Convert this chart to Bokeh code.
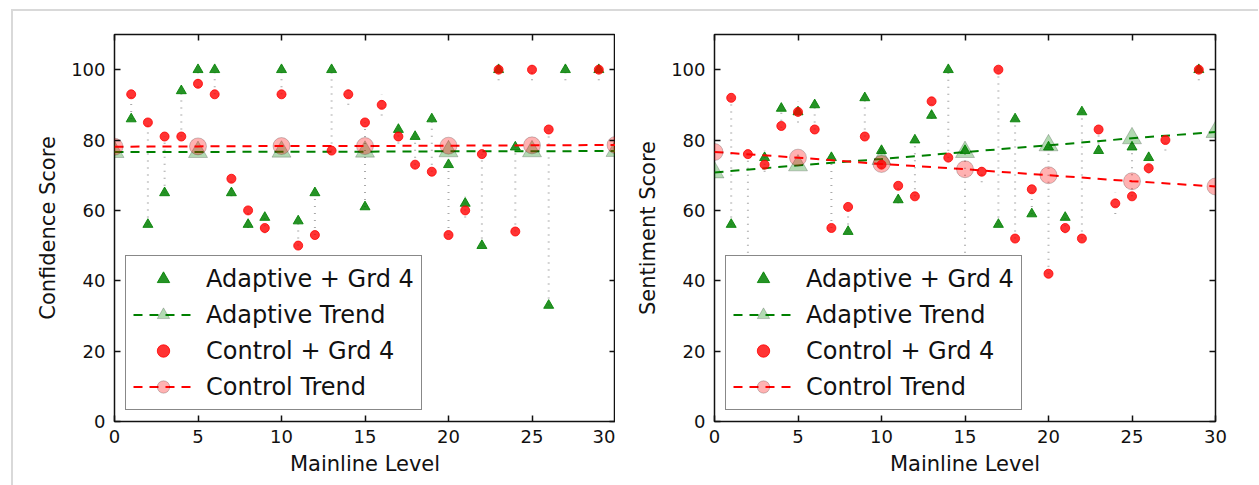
import math
from bokeh.plotting import figure
from bokeh.models import (Range1d, FixedTicker, LinearAxis, Legend, LegendItem)
from bokeh.layouts import row
from bokeh.embed import file_html
from bokeh.resources import INLINE

NaN = float("nan")

# ---------------- data ----------------
levels = list(range(1, 30))

conf_adaptive = [86, 56, 65, 94, 100, 100, 65, 56, 58, 100,
                 57, 65, 100, NaN, 61, NaN, 83, 81, 86, 73,
                 62, 50, 100, 78, NaN, 33, 100, NaN, 100]
conf_control = [93, 85, 81, 81, 96, 93, 69, 60, 55, 93,
                50, 53, 77, 93, 85, 90, 81, 73, 71, 53,
                60, 76, 100, 54, 100, 83, NaN, NaN, 100]

sent_adaptive = [56, 38, 75, 89, 88, 90, 75, 54, 92, 77,
                 63, 80, 87, 100, 77, NaN, 56, 86, 59, 78,
                 58, 88, 77, NaN, 78, 75, NaN, NaN, 100]
sent_control = [92, 76, 73, 84, 88, 83, 55, 61, 81, 73,
                67, 64, 91, 75, 40, 71, 100, 52, 66, 42,
                55, 52, 83, 62, 64, 72, 80, NaN, 100]

trend_levels = [0, 5, 10, 15, 20, 25, 30]
conf_adaptive_trend = [76.6, 76.6, 76.7, 76.7, 76.8, 76.8, 76.9]
conf_control_trend = [78.1, 78.2, 78.3, 78.3, 78.4, 78.5, 78.6]
sent_adaptive_trend = [70.8, 72.8, 74.6, 76.6, 78.5, 80.5, 82.3]
sent_control_trend = [76.6, 75.0, 73.2, 71.7, 70.0, 68.3, 66.8]

x_ticks = [0, 5, 10, 15, 20, 25, 30]
y_ticks = [0, 20, 40, 60, 80, 100]

FONT = "DejaVu Sans"
TXT = "#111111"


def span_bounds(a_vals, c_vals, half=3.0):
    xs, lo, hi = [], [], []
    for x, a, c in zip(levels, a_vals, c_vals):
        vals = [v for v in (a, c) if not math.isnan(v)]
        if not vals:
            continue
        l, h = min(vals), max(vals)
        if h - l < 2 * half:
            m = (h + l) / 2.0
            l, h = m - half, m + half
        xs.append(x)
        lo.append(l)
        hi.append(h)
    return xs, lo, hi


def make_panel(adaptive, control, a_trend, c_trend, ylabel, mb_left, mb_right):
    p = figure(frame_width=501, frame_height=387,
               x_range=Range1d(0, 30), y_range=Range1d(0, 110),
               min_border_left=mb_left, min_border_right=mb_right,
               min_border_top=23, min_border_bottom=64,
               toolbar_location=None, output_backend="svg",
               background_fill_color="white", border_fill_color="white")
    p.xgrid.visible = False
    p.ygrid.visible = False
    p.outline_line_color = "#111111"
    p.outline_line_width = 1.5
    p.outline_line_alpha = 1.0

    for ax in (p.xaxis[0], p.yaxis[0]):
        ax.major_label_text_font = FONT
        ax.major_label_text_font_size = "18px"
        ax.major_label_text_color = TXT
        ax.axis_label_text_font = FONT
        ax.axis_label_text_font_size = "21px"
        ax.axis_label_text_font_style = "normal"
        ax.axis_label_text_color = TXT
        ax.axis_line_color = None
        ax.major_tick_in = 6
        ax.major_tick_out = 0
        ax.major_tick_line_width = 1.5
        ax.major_tick_line_color = "#111111"
        ax.minor_tick_line_color = None
    p.xaxis[0].ticker = FixedTicker(ticks=x_ticks)
    p.yaxis[0].ticker = FixedTicker(ticks=y_ticks)
    p.xaxis[0].axis_label = "Mainline Level"
    p.yaxis[0].axis_label = ylabel
    p.xaxis[0].major_label_standoff = 8
    p.yaxis[0].major_label_standoff = 9
    p.xaxis[0].axis_label_standoff = 6
    p.yaxis[0].axis_label_standoff = 8

    # tick marks only on the top and right edges (matplotlib classic look)
    for side, ticks in (("above", x_ticks), ("right", y_ticks)):
        ax = LinearAxis(ticker=FixedTicker(ticks=ticks))
        ax.major_label_text_font_size = "1px"
        ax.major_label_text_color = None
        ax.major_label_standoff = 0
        ax.axis_line_color = None
        ax.major_tick_in = 6
        ax.major_tick_out = 0
        ax.major_tick_line_width = 1.5
        ax.major_tick_line_color = "#111111"
        ax.minor_tick_line_color = None
        p.add_layout(ax, side)

    xs, lo, hi = span_bounds(adaptive, control)
    p.segment(x0=xs, y0=lo, x1=xs, y1=hi, line_color="#a0a0a0",
              line_width=2, line_dash="1 6", line_alpha=0.9)

    r_a = p.scatter(levels, adaptive, marker="triangle", size=10,
                    fill_color="green", fill_alpha=0.85,
                    line_color="green", line_alpha=0.85)
    r_al = p.line(trend_levels, a_trend, line_color="green", line_width=2,
                  line_dash="9 7")
    r_am = p.scatter(trend_levels, a_trend, marker="triangle", size=19,
                     fill_color="green", fill_alpha=0.3,
                     line_color="black", line_alpha=0.2)
    r_c = p.scatter(levels, control, marker="circle", size=9,
                    fill_color="red", fill_alpha=0.8,
                    line_color="red", line_alpha=0.8)
    r_cl = p.line(trend_levels, c_trend, line_color="red", line_width=2,
                  line_dash="9 7")
    r_cm = p.scatter(trend_levels, c_trend, marker="circle", size=17,
                     fill_color="red", fill_alpha=0.3,
                     line_color="black", line_alpha=0.2)

    legend = Legend(items=[
        LegendItem(label="Adaptive + Grd 4", renderers=[r_a]),
        LegendItem(label="Adaptive Trend", renderers=[r_al, r_am]),
        LegendItem(label="Control + Grd 4", renderers=[r_c]),
        LegendItem(label="Control Trend", renderers=[r_cl, r_cm]),
    ], location="bottom_left")
    legend.margin = 11
    legend.padding = 7
    legend.spacing = 5
    legend.glyph_width = 60
    legend.glyph_height = 31
    legend.label_standoff = 13
    legend.label_text_font = FONT
    legend.label_text_font_size = "24px"
    legend.label_text_color = TXT
    legend.border_line_color = "#111111"
    legend.border_line_width = 1.5
    legend.background_fill_color = "white"
    legend.background_fill_alpha = 1.0
    p.add_layout(legend, "center")
    return p


p1 = make_panel(conf_adaptive, conf_control, conf_adaptive_trend,
                conf_control_trend, "Confidence Score", 101, 0)
p2 = make_panel(sent_adaptive, sent_control, sent_adaptive_trend,
                sent_control_trend, "Sentiment Score", 99, 43)

layout = row(p1, p2, margin=(9, 0, 0, 11),
             styles={"border-left": "2px solid #d9d9d9",
                     "border-top": "2px solid #d9d9d9"})

open("out.html", "w").write(file_html(layout, INLINE))
